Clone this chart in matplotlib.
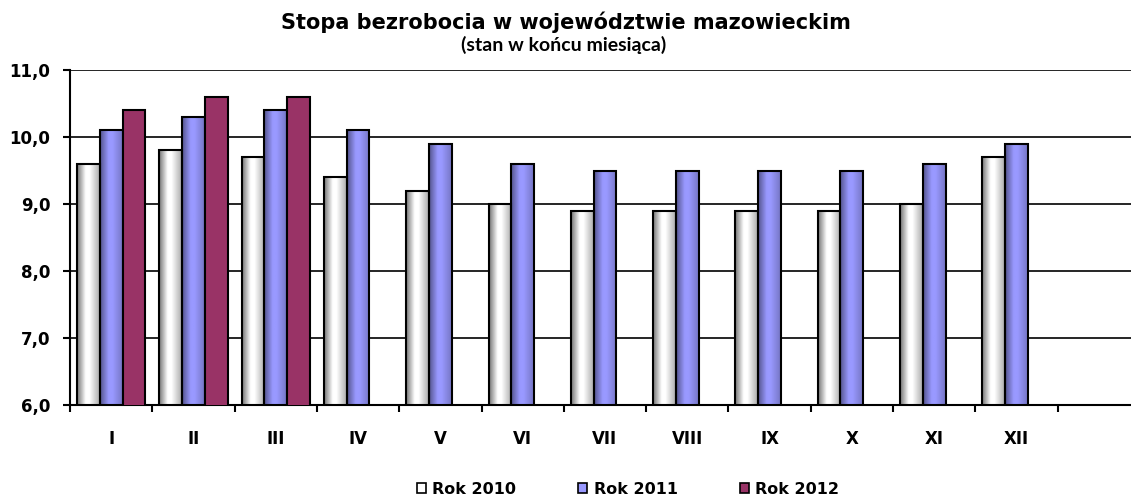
import numpy as np
import matplotlib.pyplot as plt
from matplotlib.patches import Patch
from matplotlib.ticker import FixedLocator, FuncFormatter, MultipleLocator

months = ["I", "II", "III", "IV", "V", "VI", "VII", "VIII", "IX", "X", "XI", "XII"]
rate_2010 = [9.6, 9.8, 9.7, 9.4, 9.2, 9.0, 8.9, 8.9, 8.9, 8.9, 9.0, 9.7]
rate_2011 = [10.1, 10.3, 10.4, 10.1, 9.9, 9.6, 9.5, 9.5, 9.5, 9.5, 9.6, 9.9]
rate_2012 = [10.4, 10.6, 10.6]
series_labels = ["Rok 2010", "Rok 2011", "Rok 2012"]

title = "Stopa bezrobocia w województwie mazowieckim"
subtitle = "(stan w końcu miesiąca)"

W, H = 1131, 497
BAR_W = 0.276
Y_MIN, Y_MAX = 6, 11


def shaded_image(base_hex: str, lo: float) -> np.ndarray:
    """Horizontal 'cylinder' shading: dark left edge, light at ~40%, dimmer right."""
    base = np.array(plt.matplotlib.colors.to_rgb(base_hex))
    t = np.linspace(0, 1, 80)
    f = np.interp(t, [0.0, 0.38, 0.55, 1.0], [lo, 1.0, 1.0, lo + 0.22])
    img = np.clip(f[:, None] * base[None, :], 0, 1)
    return img[None, :, :]


def draw_series(ax, x, values, color, lo=None):
    bars = ax.bar(x, values, width=BAR_W, facecolor="none",
                  edgecolor="black", linewidth=1.5, zorder=3)
    if lo is None:
        for p in bars.patches:
            p.set_facecolor(color)
        return bars
    img = shaded_image(color, lo)
    for p in bars.patches:
        x0, w, h = p.get_x(), p.get_width(), p.get_height()
        # image only spans the visible part, the bar itself does the clipping
        im = ax.imshow(img, extent=[x0, x0 + w, Y_MIN, h], aspect="auto",
                       interpolation="bilinear", zorder=2)
        im.set_clip_path(p)
    return bars


def main() -> None:
    plt.rcParams["font.family"] = ["DejaVu Sans"]
    fig = plt.figure(figsize=(W / 100, H / 100), dpi=100)
    ax = fig.add_axes([70 / W, 1 - 405 / H, 1 - 70 / W, (405 - 70) / H])

    x = np.arange(len(months))
    draw_series(ax, x - BAR_W, rate_2010, "#ffffff", lo=0.45)
    draw_series(ax, x, rate_2011, "#9999ff", lo=0.55)
    draw_series(ax, np.arange(len(rate_2012)) + BAR_W, rate_2012, "#993366")

    slot_px = 82.3
    ax.set_xlim(-0.5, -0.5 + (W - 70) / slot_px)
    ax.set_ylim(Y_MIN, Y_MAX)

    ax.yaxis.set_major_locator(MultipleLocator(1.0))
    ax.yaxis.set_major_formatter(FuncFormatter(lambda v, _: f"{v:.1f}".replace(".", ",")))
    ax.yaxis.grid(True, color="black", linewidth=1.2)
    ax.set_axisbelow(True)

    ax.set_xticks(x)
    ax.set_xticklabels(months)
    ax.xaxis.set_minor_locator(FixedLocator(np.arange(-0.5, 12.6, 1.0)))
    ax.tick_params(axis="x", which="major", length=0, pad=18,
                   labelsize=12)
    ax.tick_params(axis="x", which="minor", length=5, width=1.5, direction="out")
    ax.tick_params(axis="y", length=5, width=1.5, pad=9, labelsize=12)
    for lab in ax.get_xticklabels() + ax.get_yticklabels():
        lab.set_fontweight("bold")

    for side in ("top", "right"):
        ax.spines[side].set_visible(False)
    for side in ("left", "bottom"):
        ax.spines[side].set_linewidth(1.5)
        ax.spines[side].set_color("black")

    fig.text(0.5, 1 - 22 / H, title, ha="center", va="center",
             fontsize=15.0, fontweight="bold")
    fig.text(564 / W, 1 - 45 / H, subtitle, ha="center", va="center",
             fontsize=14, fontweight="bold", family=["Lato", "DejaVu Sans"])

    handles = [
        Patch(facecolor="#ffffff", edgecolor="black", linewidth=1.2),
        Patch(facecolor="#9999ff", edgecolor="black", linewidth=1.2),
        Patch(facecolor="#993366", edgecolor="black", linewidth=1.2),
    ]
    fig.legend(handles, series_labels, loc="center", ncol=3,
               bbox_to_anchor=(628 / W, 1 - 489 / H), frameon=False,
               prop={"weight": "bold", "size": 11.5},
               handlelength=0.55, handleheight=0.55, handletextpad=0.4,
               columnspacing=3.9, borderpad=0)

    fig.savefig("out.png", dpi=100)
    plt.close(fig)


if __name__ == "__main__":
    main()
